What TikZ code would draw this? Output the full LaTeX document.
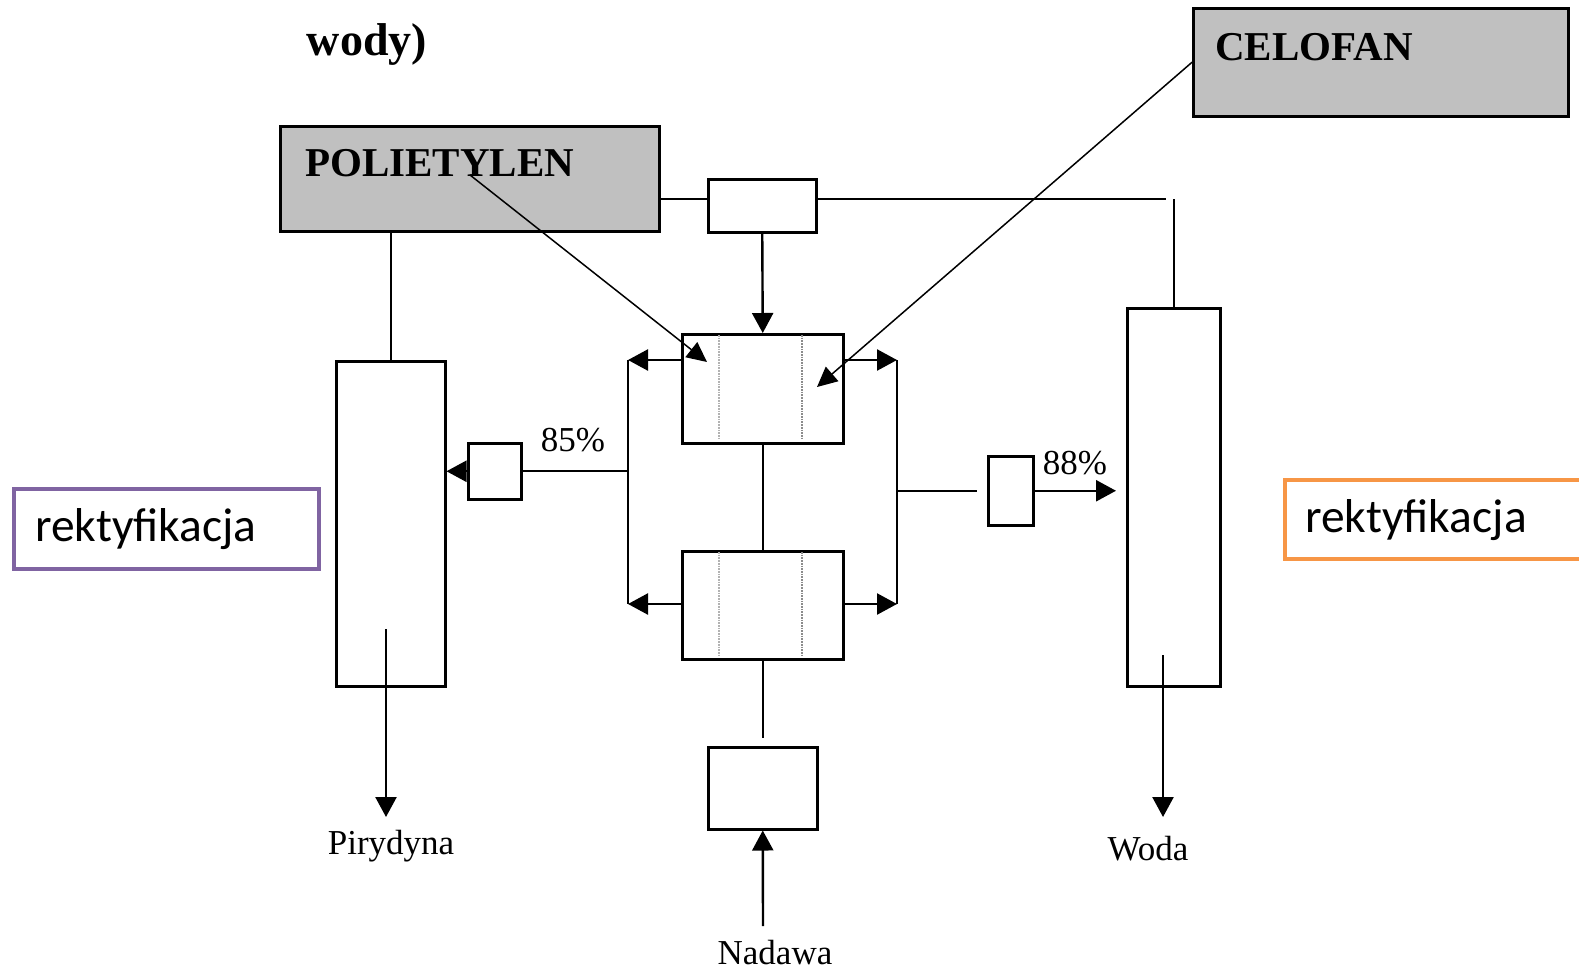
\documentclass[tikz,border=0pt]{standalone}
\usepackage{fontspec}
\setmainfont{Liberation Serif}
\newfontfamily\calibri{Carlito}
\usepackage{tikz}
\usetikzlibrary{arrows.meta}
\usepackage{xcolor}
\definecolor{boxgray}{RGB}{192,192,192}
\definecolor{rekpurple}{RGB}{128,100,162}
\definecolor{rekorange}{RGB}{247,150,70}

\begin{document}
\begin{tikzpicture}[x=1pt, y=-1pt, line width=2.4pt,
	unit/.style={draw, line width=2.5pt, inner sep=0pt, anchor=north west},
	arr/.style={-{Triangle[length=20pt,width=21pt]}},
	thinarr/.style={line width=1.5pt, -{Triangle[length=20pt,width=19pt]}},
	sieve/.style={line width=1.7pt, densely dotted},
	lbl/.style={inner sep=0pt, font=\fontsize{35}{40}\selectfont},
	title/.style={inner sep=0pt, anchor=west, font=\fontsize{41}{46}\selectfont\bfseries},
	rekt/.style={draw, line width=3.5pt, inner sep=0pt, anchor=north west, fill=white}]
	\useasboundingbox (0,0) rectangle (1579,970);

	\node[inner sep=0pt, font=\fontsize{46}{50}\selectfont\bfseries] (wody) at (367,45) {wody)};

	\node[unit, fill=boxgray, minimum width=379pt, minimum height=105pt] (poly) at (279,125) {};
	\node[title] (polytxt) at (304,163) {POLIETYLEN};
	\node[unit, fill=boxgray, minimum width=375pt, minimum height=108pt] (celofan) at (1192,7) {};
	\node[title] (celtxt) at (1214,47) {CELOFAN};

	\node[unit, minimum width=108pt, minimum height=53pt] (mix) at (707,178) {};
	\node[unit, minimum width=161pt, minimum height=109pt] (ext1) at (681,333) {};
	\node[unit, minimum width=161pt, minimum height=108pt] (ext2) at (681,550) {};
	\node[unit, minimum width=109pt, minimum height=82pt] (feed) at (707,746) {};
	\node[unit, minimum width=109pt, minimum height=325pt] (leftcol) at (335,360) {};
	\node[unit, minimum width=93pt, minimum height=378pt] (rightcol) at (1126,307) {};
	\node[unit, minimum width=53pt, minimum height=56pt] (lbox) at (467,442) {};
	\node[unit, minimum width=45pt, minimum height=69pt] (rbox) at (987,455) {};

	\draw[sieve, gray!60] (719,335) -- (719,440);
	\draw[sieve, gray!90] (802,335) -- (802,440);
	\draw[sieve, gray!60] (719,552) -- (719,656);
	\draw[sieve, gray!90] (802,552) -- (802,656);

	\coordinate (topline) at (761,199);
	\coordinate (lb1) at (628,360);
	\coordinate (lb2) at (628,604);
	\coordinate (rb1) at (897,360);
	\coordinate (rb2) at (897,604);
	\coordinate (polyout) at (470,175);
	\coordinate (polyin) at (707,362);
	\coordinate (celin) at (817,387);
	\coordinate (pirtop) at (386,629);
	\coordinate (pirend) at (386,817);
	\coordinate (wodtop) at (1163,655);
	\coordinate (wodend) at (1163,817);
	\coordinate (nadend) at (763,926);

	\draw (mix.west |- topline) -- (poly.east |- topline);
	\draw[shorten >=8pt] (mix.east |- topline) -- (rightcol.north |- topline);
	\draw (rightcol.north) -- (rightcol.north |- topline);
	\draw (leftcol.north) -- (leftcol.north |- poly.south);
	\draw[arr] (mix.south) -- (ext1.north);
	\draw (ext1.south) -- (ext2.north);
	\draw[shorten >=8pt] (ext2.south) -- (feed.north);
	\draw[arr] (nadend) -- (feed.south);

	\draw[arr] (ext1.west |- lb1) -- (lb1);
	\draw[arr] (ext2.west |- lb2) -- (lb2);
	\draw (lb1) -- (lb2);
	\draw[arr] (ext1.east |- rb1) -- (rb1);
	\draw[arr] (ext2.east |- rb2) -- (rb2);
	\draw (rb1) -- (rb2);

	\draw (lbox.east) -- (lbox.east -| lb1);
	\draw[arr] (lbox.west) -- (lbox.west -| leftcol.east);
	\draw[shorten >=10pt] (rbox.west -| rb1) -- (rbox.west);
	\draw[arr, shorten >=10pt] (rbox.east) -- (rbox.east -| rightcol.west);

	\draw[thinarr] (polyout) -- (polyin);
	\draw[thinarr] (celofan.west) -- (celin);

	\draw[arr] (pirtop) -- (pirend);
	\draw[arr] (wodtop) -- (wodend);

	\node[lbl] (p85) at (573,440) {85\%};
	\node[lbl] (p88) at (1075,463) {88\%};
	\node[lbl] (pir) at (391,846) {Pirydyna};
	\node[lbl] (woda) at (1148,849) {Woda};
	\node[lbl] (nadawa) at (775,953) {Nadawa};

	\node[rekt, draw=rekpurple, minimum width=305pt, minimum height=80pt] (rekl) at (12,487) {};
	\node[inner sep=0pt, anchor=west, font=\fontsize{47.5}{52}\selectfont\calibri] (rekltxt) at (34,529) {rektyfikacja};
	\node[rekt, draw=rekorange, minimum width=330pt, minimum height=79pt] (rekr) at (1283,478) {};
	\node[inner sep=0pt, anchor=west, font=\fontsize{47.5}{52}\selectfont\calibri] (rekrtxt) at (1304,520) {rektyfikacja};
\end{tikzpicture}
\end{document}
